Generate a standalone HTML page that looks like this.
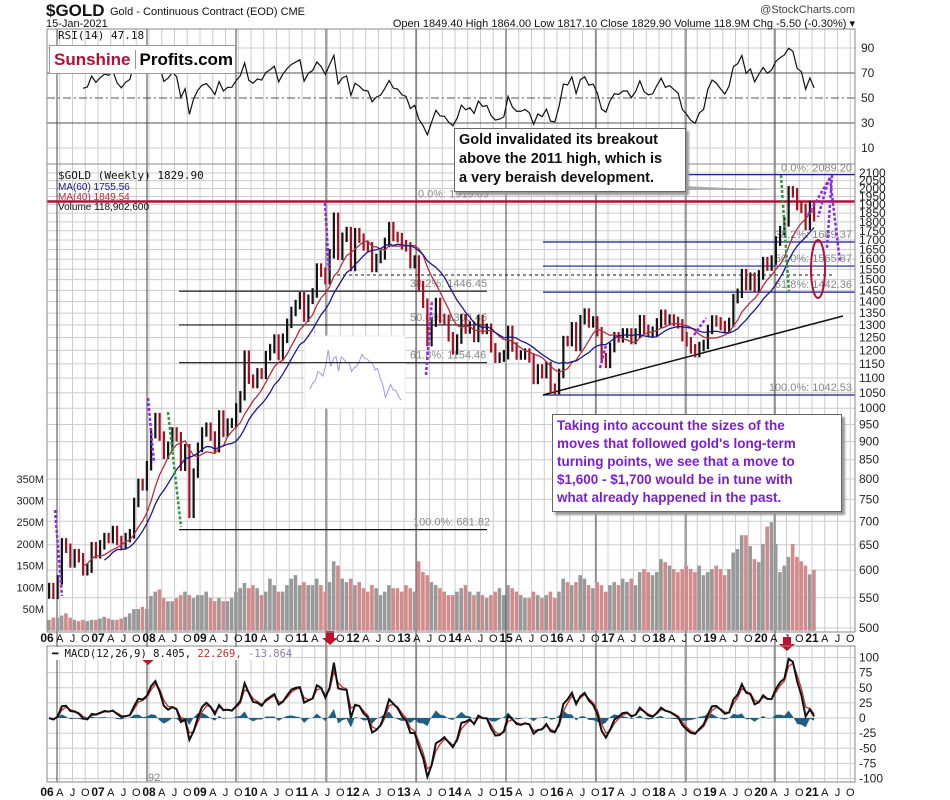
<!DOCTYPE html>
<html><head><meta charset="utf-8"><style>
body{margin:0;background:#fff;width:950px;height:800px;overflow:hidden;font-family:"Liberation Sans",sans-serif}
svg{position:absolute;left:0;top:0}
.box{position:absolute;background:#fff;border:1px solid #666;box-shadow:3px 3px 2px #999;font-weight:bold;white-space:nowrap}
</style></head><body>
<svg id="chart" width="950" height="800"></svg>
<div class="box" style="left:49px;top:45px;width:185px;height:27px;font-size:17px;line-height:27px;box-shadow:none;border-color:#999"><span style="color:#b0103a;padding-left:4px">Sunshine</span><span style="border-left:1px solid #999;margin-left:4px;padding-left:4px">Profits.com</span></div>
<div class="box" style="left:454px;top:128px;width:222px;height:58px;padding:2px 4px;font-size:14.5px;line-height:19px;color:#111">Gold invalidated its breakout<br>above the 2011 high, which is<br>a very beraish development.</div>
<div class="box" style="left:552px;top:414px;width:280px;height:92px;padding:2px 4px;font-size:13.5px;line-height:18px;color:#7a1fd0">Taking into account the sizes of the<br>moves that followed gold's long-term<br>turning points, we see that a move to<br>$1,600 - $1,700 would be in tune with<br>what already happened in the past.</div>
<script>
const months=[
568,556,582,654,643,614,632,624,599,604,646,632,
650,665,663,680,659,650,665,673,743,789,783,834,
923,971,916,865,887,928,914,833,880,718,815,884,
928,942,916,883,979,927,954,955,1001,1040,1182,1096,
1081,1118,1113,1180,1207,1244,1181,1247,1307,1357,1387,1421,
1333,1410,1439,1556,1536,1500,1628,1826,1620,1715,1746,1564,
1740,1710,1669,1664,1559,1604,1622,1687,1773,1719,1713,1675,
1664,1578,1596,1472,1393,1234,1312,1396,1327,1323,1253,1202,
1244,1326,1284,1296,1250,1322,1282,1287,1210,1171,1175,1184,
1278,1213,1183,1183,1190,1172,1095,1132,1115,1141,1065,1061,
1116,1238,1234,1293,1215,1322,1350,1309,1317,1273,1173,1152,
1211,1253,1249,1268,1268,1242,1268,1322,1283,1271,1275,1309,
1345,1318,1325,1315,1305,1253,1233,1206,1192,1215,1223,1282,
1321,1313,1298,1285,1311,1413,1437,1529,1472,1512,1464,1523,
1588,1566,1596,1694,1751,1800,1986,1973,1895,1879,1780,1895,
1830];
const volumes=[
25,30,30,35,40,30,25,22,25,22,25,25,
28,32,28,25,25,28,32,40,50,50,55,50,
80,90,95,75,68,68,75,82,90,82,75,82,
82,90,75,68,75,68,68,75,90,98,110,98,
105,98,82,90,120,105,90,90,105,120,128,105,
112,105,105,120,105,90,112,160,150,120,112,120,
105,112,98,90,105,98,82,90,105,98,98,90,
105,98,90,160,135,128,112,105,98,90,82,82,
90,98,105,90,82,90,82,75,82,90,98,82,
105,98,90,82,75,75,90,82,75,82,90,75,
90,120,112,105,112,128,120,105,98,112,105,90,
105,112,105,120,112,120,105,135,142,135,128,135,
165,158,150,142,135,142,150,142,135,150,128,135,
142,150,142,128,142,180,188,220,220,195,165,158,
200,240,250,200,135,150,170,200,170,160,150,130,
140];
const priceTicks=[2100,2050,2000,1950,1900,1850,1800,1750,1700,1650,1600,1550,1500,1450,1400,1350,1300,1250,1200,1150,1100,1050,1000,950,900,850,800,750,700,650,600,550,500];
const volTicks=[50,100,150,200,250,300,350];
const rsiTicks=[90,70,50,30,10];
const macdTicks=[100,75,50,25,0,-25,-50,-75,-100];
const years=["06","07","08","09","10","11","12","13","14","15","16","17","18","19","20","21"];
const fibA=[[0,1919.09],[38.2,1446.45],[50,1300.46],[61.8,1154.46],[100,681.82]];
const fibB=[[0,2089.20],[38.2,1689.37],[50,1565.87],[61.8,1442.36],[100,1042.53]];

const S=document.getElementById('chart'),NS='http://www.w3.org/2000/svg';
function mk(t,a,p){const e=document.createElementNS(NS,t);for(const k in a)e.setAttribute(k,a[k]);(p||S).appendChild(e);return e;}
const L=47,R=855;
const X=t=>L+(t+0.5)*51/12;
const YX=y=>L+y*51;
const PY=p=>173+730*Math.log10(2100/p);
const VY=v=>630.7-v*0.434;
const RY=r=>148-(r-10)*1.25;
const MY=m=>718-m*0.605;
const panels=[[29,164],[164,632],[646,782]];

for(const [t,b] of panels){
  for(let q=0;q<16*4;q++){const x=L+q*12.75;if(x>R)break;
    const g=mk('line',{x1:x,x2:x,y1:t,y2:b,stroke:'#ccc','stroke-width':1});
    
    }
}
priceTicks.forEach(p=>{const y=PY(p);
  const g=mk('line',{x1:L,x2:R,y1:y,y2:y,stroke:'#ccc'});
  
  
  const t=mk('text',{x:R+4,y:y+4,'font-size':12,fill:'#222'});t.textContent=p;
  
  });
volTicks.forEach(v=>{const y=VY(v);
  const t=mk('text',{x:L-3,y:y+4,'font-size':11,fill:'#222','text-anchor':'end'});t.textContent=v+'M';
  
  });
rsiTicks.forEach(r=>{const y=RY(r);
  const g=mk('line',{x1:L,x2:R,y1:y,y2:y,stroke:(r==70||r==30||r==50)?'#555':'#ccc','stroke-dasharray':r==50?'8,3,2,3':'none'});
  
  
  const t=mk('text',{x:R+6,y:y+4,'font-size':12,fill:'#222'});t.textContent=r;
  
  });
macdTicks.forEach(m=>{const y=MY(m);
  const g=mk('line',{x1:L,x2:R,y1:y,y2:y,stroke:'#ccc'});
  
  
  const t=mk('text',{x:R+4,y:y+4,'font-size':12,fill:'#222'});t.textContent=m;
  
  });
[57,147,236,326,416,506,596,686,775].forEach(x=>{
  const c=mk('line',{x1:x,x2:x,y1:29,y2:782,stroke:'#444','stroke-width':1});
  
  });
[637,791].forEach(yy=>{years.forEach((yr,i)=>{
  const x=YX(i);
  const t=mk('text',{x:x,y:yy+5,'font-size':12,'font-weight':'bold','text-anchor':'middle',fill:'#111'});t.textContent=yr;
  
  
  ['A','J','O'].forEach((m,k)=>{const xm=x+(k+1)*12.75;if(xm>R)return;
    const u=mk('text',{x:xm,y:yy+5,'font-size':11,'text-anchor':'middle',fill:'#111'});u.textContent=m;
    
    });
});});

months.forEach((c,i)=>{const up=i==0||c>=months[i-1];
  const b=mk('rect',{x:X(i)-2,y:VY(volumes[i]),width:3.6,height:630.7-VY(volumes[i]),fill:up?'#999':'#d38a8a'});
  
  });

const ins=mk('rect',{x:305,y:336,width:100,height:72,fill:'#fff',stroke:'#eee'});


const sub=months.slice(60,96);let mn=Math.min(...sub),mx=Math.max(...sub);
const ip=mk('polyline',{points:sub.map((v,k)=>(310+k*2.6)+','+(400-(v-mn)/(mx-mn)*50)).join(' '),fill:'none',stroke:'#9a9ae8','stroke-width':1});



fibA.forEach(([pct,v])=>{const y=PY(v);
  if(pct>0){const l=mk('line',{x1:179,x2:487,y1:y,y2:y,stroke:'#111','stroke-width':1.2});
    
    }
  const t=mk('text',{x:pct==0?418:(pct==100?413:410),y:y-4,'font-size':11,fill:'#888'});t.textContent=pct.toFixed(1)+'%: '+v.toFixed(2);
  
  });
fibB.forEach(([pct,v])=>{const y=PY(v);
  const l=mk('line',{x1:pct==0?681:543,x2:R,y1:y,y2:y,stroke:'#1a1a8a','stroke-width':1.2});
  
  
  const t=mk('text',{x:852,y:pct==0?y-3:y-4,'font-size':11,fill:'#888','text-anchor':'end'});t.textContent=pct.toFixed(1)+'%: '+v.toFixed(2);
  
  });
const dl=mk('line',{x1:337,x2:835,y1:275,y2:275,stroke:'#111','stroke-dasharray':'3,3'});


const tl=mk('line',{x1:543,y1:395,x2:843,y2:316,stroke:'#111','stroke-width':1.5});


const hl=mk('line',{x1:L,x2:R,y1:PY(1919.09),y2:PY(1919.09),stroke:'#b0103a','stroke-width':2.5});



months.forEach((c,i)=>{const p=i==0?c*0.98:months[i-1];
  const hi=Math.max(p,c)*1.015,lo=Math.min(p,c)*0.985;
  const b=mk('line',{x1:X(i),x2:X(i),y1:PY(hi),y2:PY(lo),stroke:c>=p?'#111':'#a01020','stroke-width':2.2});
  
  });
function sma(n){const o=[];for(let i=n-1;i<months.length;i++){let s=0;for(let k=0;k<n;k++)s+=months[i-k];o.push([i,s/n]);}return o;}
[[9,'#b03040','ma40-line'],[14,'#1a1a8a','ma60-line']].forEach(([n,col,nm])=>{
  const pl=mk('polyline',{points:sma(n).map(([i,v])=>X(i)+','+PY(v)).join(' '),fill:'none',stroke:col,'stroke-width':1.3});
  
  });

const proj=[[[55,510],[62,596],'#8a2be2'],[[148,398],[154,463],'#8a2be2'],[[168,412],[181,527],'#2a9a3a'],[[325,203],[329,270],'#8a2be2'],[[426,375],[432,300],'#8a2be2'],[[781,175],[789,293],'#2a9a3a'],[[808,215],[830,178],'#8a2be2'],[[830,178],[840,262],'#8a2be2'],[[832,175],[827,248],'#8a2be2'],[[828,182],[818,217],'#8a2be2'],[[694,335],[706,318],'#8a2be2'],[[600,368],[606,345],'#8a2be2']];
proj.forEach(([a,b,col])=>{const l=mk('line',{x1:a[0],y1:a[1],x2:b[0],y2:b[1],stroke:col,'stroke-width':2.5,'stroke-dasharray':'3,2'});
  
  });
const el=mk('ellipse',{cx:818,cy:269,rx:7,ry:29,fill:'none',stroke:'#b0103a','stroke-width':2});


const co=mk('polygon',{points:'660,186 682,186 775,190 660,190',fill:'#aaa'});



function rsi(n){const o=[];let ag=0,al=0;for(let i=1;i<months.length;i++){const d=months[i]-months[i-1];const g=Math.max(d,0),l=Math.max(-d,0);
  if(i<=n){ag+=g/n;al+=l/n;if(i<n)continue;}else{ag=(ag*(n-1)+g)/n;al=(al*(n-1)+l)/n;}
  o.push([i,al==0?100:100-100/(1+ag/al)]);}return o;}
const rp=mk('polyline',{points:rsi(8).map(([i,v])=>X(i)+','+RY(Math.max(5,Math.min(95,v)))).join(' '),fill:'none',stroke:'#111','stroke-width':1.2});



function ema(a,n){const k=2/(n+1);const o=[a[0]];for(let i=1;i<a.length;i++)o.push(a[i]*k+o[i-1]*(1-k));return o;}
const e1=ema(months,3),e2=ema(months,6);const macd=e1.map((v,i)=>v-e2[i]);const sig=ema(macd,2);
const clip=v=>Math.max(-105,Math.min(105,v));
const hp=mk('polygon',{points:[X(0)+','+MY(0)].concat(macd.map((v,i)=>X(i)+','+MY(clip(v-sig[i])))).concat([X(macd.length-1)+','+MY(0)]).join(' '),fill:'#1f5f7f'});


const sp=mk('polyline',{points:sig.map((v,i)=>X(i)+','+MY(clip(v))).join(' '),fill:'none',stroke:'#c03030','stroke-width':1.3});


const mp=mk('polyline',{points:macd.map((v,i)=>X(i)+','+MY(clip(v))).join(' '),fill:'none',stroke:'#111','stroke-width':2});


[[148,651],[330,631],[787,637]].forEach(([x,y])=>{
  const a=mk('polygon',{points:`${x-4},${y} ${x+4},${y} ${x+4},${y+7} ${x+8},${y+7} ${x},${y+14} ${x-8},${y+7} ${x-4},${y+7}`,fill:'#c0102a'});
  
  });

panels.forEach(([t,b])=>{const r=mk('rect',{x:L,y:t,width:R-L,height:b-t,fill:'none',stroke:'#888'});
  
  });

function tx(x,y,s,str,attrs,nm){const t=mk('text',Object.assign({x:x,y:y,'font-size':s,fill:'#111'},attrs||{}));t.textContent=str;
  
  return t;}
tx(46,16,17,'$GOLD',{'font-weight':'bold'},'chart-symbol');
tx(110,15,11,'Gold - Continuous Contract (EOD)  CME',{},'chart-title');
tx(46,27,11,'15-Jan-2021',{},'chart-date');
tx(855,27,11,'Open 1849.40  High 1864.00  Low 1817.10  Close 1829.90  Volume 118.9M  Chg -5.50 (-0.30%) ▾',{'text-anchor':'end'},'quote-summary');
tx(855,13,11,'@StockCharts.com',{'text-anchor':'end',fill:'#444'},'stockcharts-credit');
tx(58,39,12,'RSI(14) 47.18',{'font-family':'DejaVu Sans Mono, monospace','font-size':11},'rsi-legend');
tx(58,179,11,'$GOLD (Weekly) 1829.90',{'font-family':'DejaVu Sans Mono, monospace'},'price-legend');
tx(58,190,10,'MA(60) 1755.56',{fill:'#1a1a8a'},'ma60-legend');
tx(58,200,10,'MA(40) 1849.54',{fill:'#b03040'},'ma40-legend');
tx(58,210,10,'Volume 118,902,600',{},'volume-legend');
const mb=mk('rect',{x:48,y:647,width:232,height:13,fill:'#fff'});


const ml=tx(52,657,11,'',{'font-family':'DejaVu Sans Mono, monospace','font-size':10.5},'macd-legend');
[['━ MACD(12,26,9) 8.405, ','#111'],['22.269, ','#c03030'],['-13.864','#8a7ab0']].forEach(([s,c])=>{const ts=mk('tspan',{fill:c},ml);ts.textContent=s;});
tx(148,781,11,'92',{fill:'#888'},'macd-min-label');
</script>
</body></html>
